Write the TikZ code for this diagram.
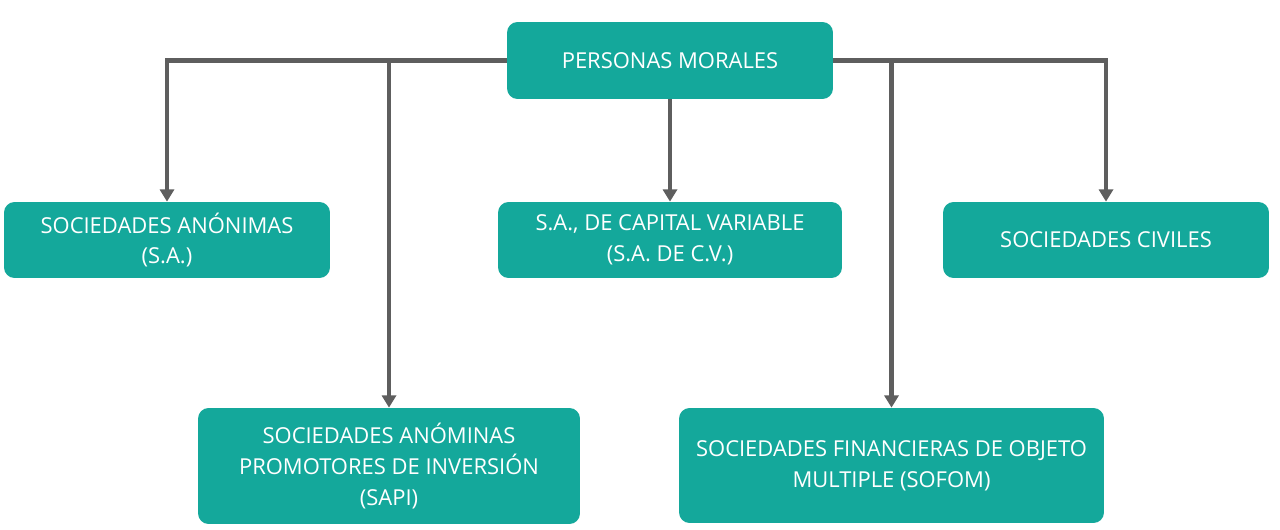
\documentclass[tikz,border=0pt]{standalone}
\usepackage{fontspec}
\setmainfont{Open Sans}
\usetikzlibrary{arrows.meta}
\definecolor{verdeazul}{HTML}{14A89B}
\definecolor{grislinea}{HTML}{5E5E5E}
\tikzset{
    caja/.style={fill=verdeazul, rounded corners=6pt, text=white, align=center,
        inner sep=0pt, font=\fontsize{12.5}{17.5}\selectfont},
    flecha/.style={draw=grislinea, line width=2.6pt,
        -{Triangle[width=8pt,length=7pt]}}
}
\begin{document}
\begin{tikzpicture}[x=0.02cm,y=-0.02cm]
        \useasboundingbox (0,0) rectangle (1280,530);
        % raiz
        \node[caja, minimum width=6.52cm, minimum height=1.54cm] (pm) at (670,60.5) {PERSONAS MORALES};
        % primer nivel
        \node[caja, minimum width=6.52cm, minimum height=1.52cm] (sa) at (167,240) {SOCIEDADES ANÓNIMAS\\(S.A.)};
        \node[caja, minimum width=6.88cm, minimum height=1.52cm] (sacv) at (670,240) {S.A., DE CAPITAL VARIABLE\\(S.A. DE C.V.)};
        \node[caja, minimum width=6.52cm, minimum height=1.52cm] (sc) at (1106,240) {SOCIEDADES CIVILES};
        % segundo nivel
        \node[caja, minimum width=7.64cm, minimum height=2.32cm] (sapi) at (389,466) {SOCIEDADES ANÓMINAS\\PROMOTORES DE INVERSIÓN\\(SAPI)};
        \node[caja, minimum width=8.5cm, minimum height=2.3cm] (sofom) at (891.5,465.5) {SOCIEDADES FINANCIERAS DE OBJETO\\MULTIPLE (SOFOM)};
        % conectores
        \draw[flecha] (pm.west) -| (sa.north);
        \draw[flecha] (pm.west) -| (sapi.north);
        \draw[flecha] (pm.south) -- (sacv.north);
        \draw[flecha] (pm.east) -| (sofom.north);
        \draw[flecha] (pm.east) -| (sc.north);
    \end{tikzpicture}
\end{document}
